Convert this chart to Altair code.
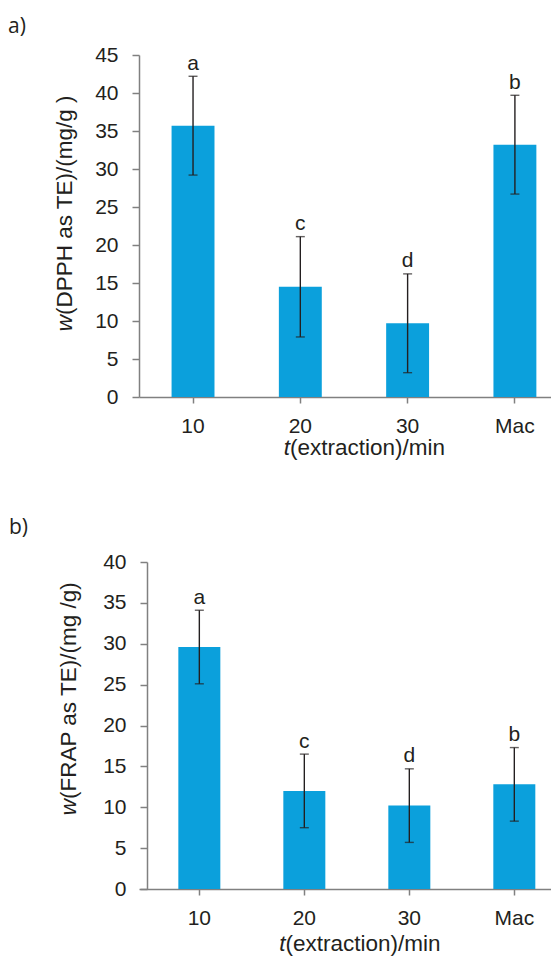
import altair as alt
import pandas as pd

# ---- data ----
categories = ["10", "20", "30", "Mac"]

dpph_mean = [35.7, 14.5, 9.7, 33.2]
dpph_sd = [6.5, 6.6, 6.5, 6.5]
dpph_letters = ["a", "c", "d", "b"]

frap_mean = [29.6, 12.0, 10.2, 12.8]
frap_sd = [4.5, 4.5, 4.5, 4.5]
frap_letters = ["a", "c", "d", "b"]

dpph_ticks = [0, 5, 10, 15, 20, 25, 30, 35, 40, 45]
frap_ticks = [0, 5, 10, 15, 20, 25, 30, 35, 40]

BLUE = "#0ba0dc"
INK = "#231f20"
AXIS = "#808080"
FONT = "Liberation Sans"


def make_df(means, sds, letters):
    return pd.DataFrame({
        "cat": categories,
        "mean": means,
        "lo": [m - s for m, s in zip(means, sds)],
        "hi": [m + s for m, s in zip(means, sds)],
        "letter": letters,
    })


def one_text(txt, x, y, angle=0, align="left", italic=False, size=22.5, font=FONT):
    d = pd.DataFrame({"t": [txt]})
    return alt.Chart(d).mark_text(
        align=align, baseline="alphabetic", angle=angle, fontSize=size,
        font=font, fontStyle="italic" if italic else "normal", color=INK,
    ).encode(x=alt.value(x), y=alt.value(y), text="t:N")


def panel(df, ticks, height, pad_outer, align, y_offset,
          panel_label, lab_x, lab_y,
          ytitle_rest, yt_x, yt_p,
          xt_p, xt_y):
    ymax = ticks[-1]
    xscale = alt.Scale(paddingInner=0.6, paddingOuter=pad_outer, align=align)
    xaxis = alt.Axis(title=None, labelAngle=0, tickSize=6, labelPadding=12)
    yscale = alt.Scale(domain=[0, ymax], nice=False)
    yaxis = alt.Axis(title=None, values=ticks, grid=False, tickSize=7,
                     labelPadding=14, offset=y_offset)

    def X():
        return alt.X("cat:N", sort=categories, scale=xscale, axis=xaxis)

    def Y(field):
        return alt.Y(field, scale=yscale, axis=yaxis)

    base = alt.Chart(df)
    bars = base.mark_bar(color=BLUE).encode(x=X(), y=Y("mean:Q"))
    rule = base.mark_rule(color=INK, strokeWidth=1.4).encode(
        x=X(), y=Y("lo:Q"), y2="hi:Q")
    cap_lo = base.mark_tick(color=INK, size=9, thickness=1.4, orient="horizontal").encode(
        x=X(), y=Y("lo:Q"))
    cap_hi = base.mark_tick(color=INK, size=9, thickness=1.4, orient="horizontal").encode(
        x=X(), y=Y("hi:Q"))
    letters = base.mark_text(dy=-6.5, baseline="alphabetic", fontSize=21,
                             font=FONT, color=INK).encode(
        x=X(), y=Y("hi:Q"), text="letter:N")

    lab = one_text(panel_label, lab_x, lab_y, size=21, font="Open Sans")
    yt_w = one_text("w", yt_x, yt_p, angle=270, align="right", italic=True)
    yt_r = one_text(ytitle_rest, yt_x, yt_p, angle=270, align="left")
    xt_t = one_text("t", xt_p, height + xt_y, align="right", italic=True)
    xt_r = one_text("(extraction)/min", xt_p, height + xt_y, align="left")

    return alt.layer(bars, rule, cap_lo, cap_hi, letters, lab, yt_w, yt_r, xt_t, xt_r).properties(
        width=412, height=height)


pa = panel(make_df(dpph_mean, dpph_sd, dpph_letters), dpph_ticks, 342,
           0.22, 0.69, 0,
           "a)", -131, -22,
           "(DPPH as TE)/(mg/g )", -67, 260,
           151, 57.5)

pb = panel(make_df(frap_mean, frap_sd, frap_letters), frap_ticks, 327,
           0.262, 0.715, -8,
           "b)", -130, -28,
           "(FRAP as TE)/(mg /g)", -63, 237,
           146.5, 62)

chart = alt.vconcat(pa, pb, spacing=58).properties(
    padding={"left": 0, "top": 8, "right": 0, "bottom": 0}
).configure_view(stroke=None).configure_axis(
    domainColor=AXIS, tickColor=AXIS, domainWidth=1.5, tickWidth=1.5,
    labelColor=INK, labelFont=FONT, labelFontSize=21,
)

chart.save("out.html", embed_options={"renderer": "svg", "actions": False})
